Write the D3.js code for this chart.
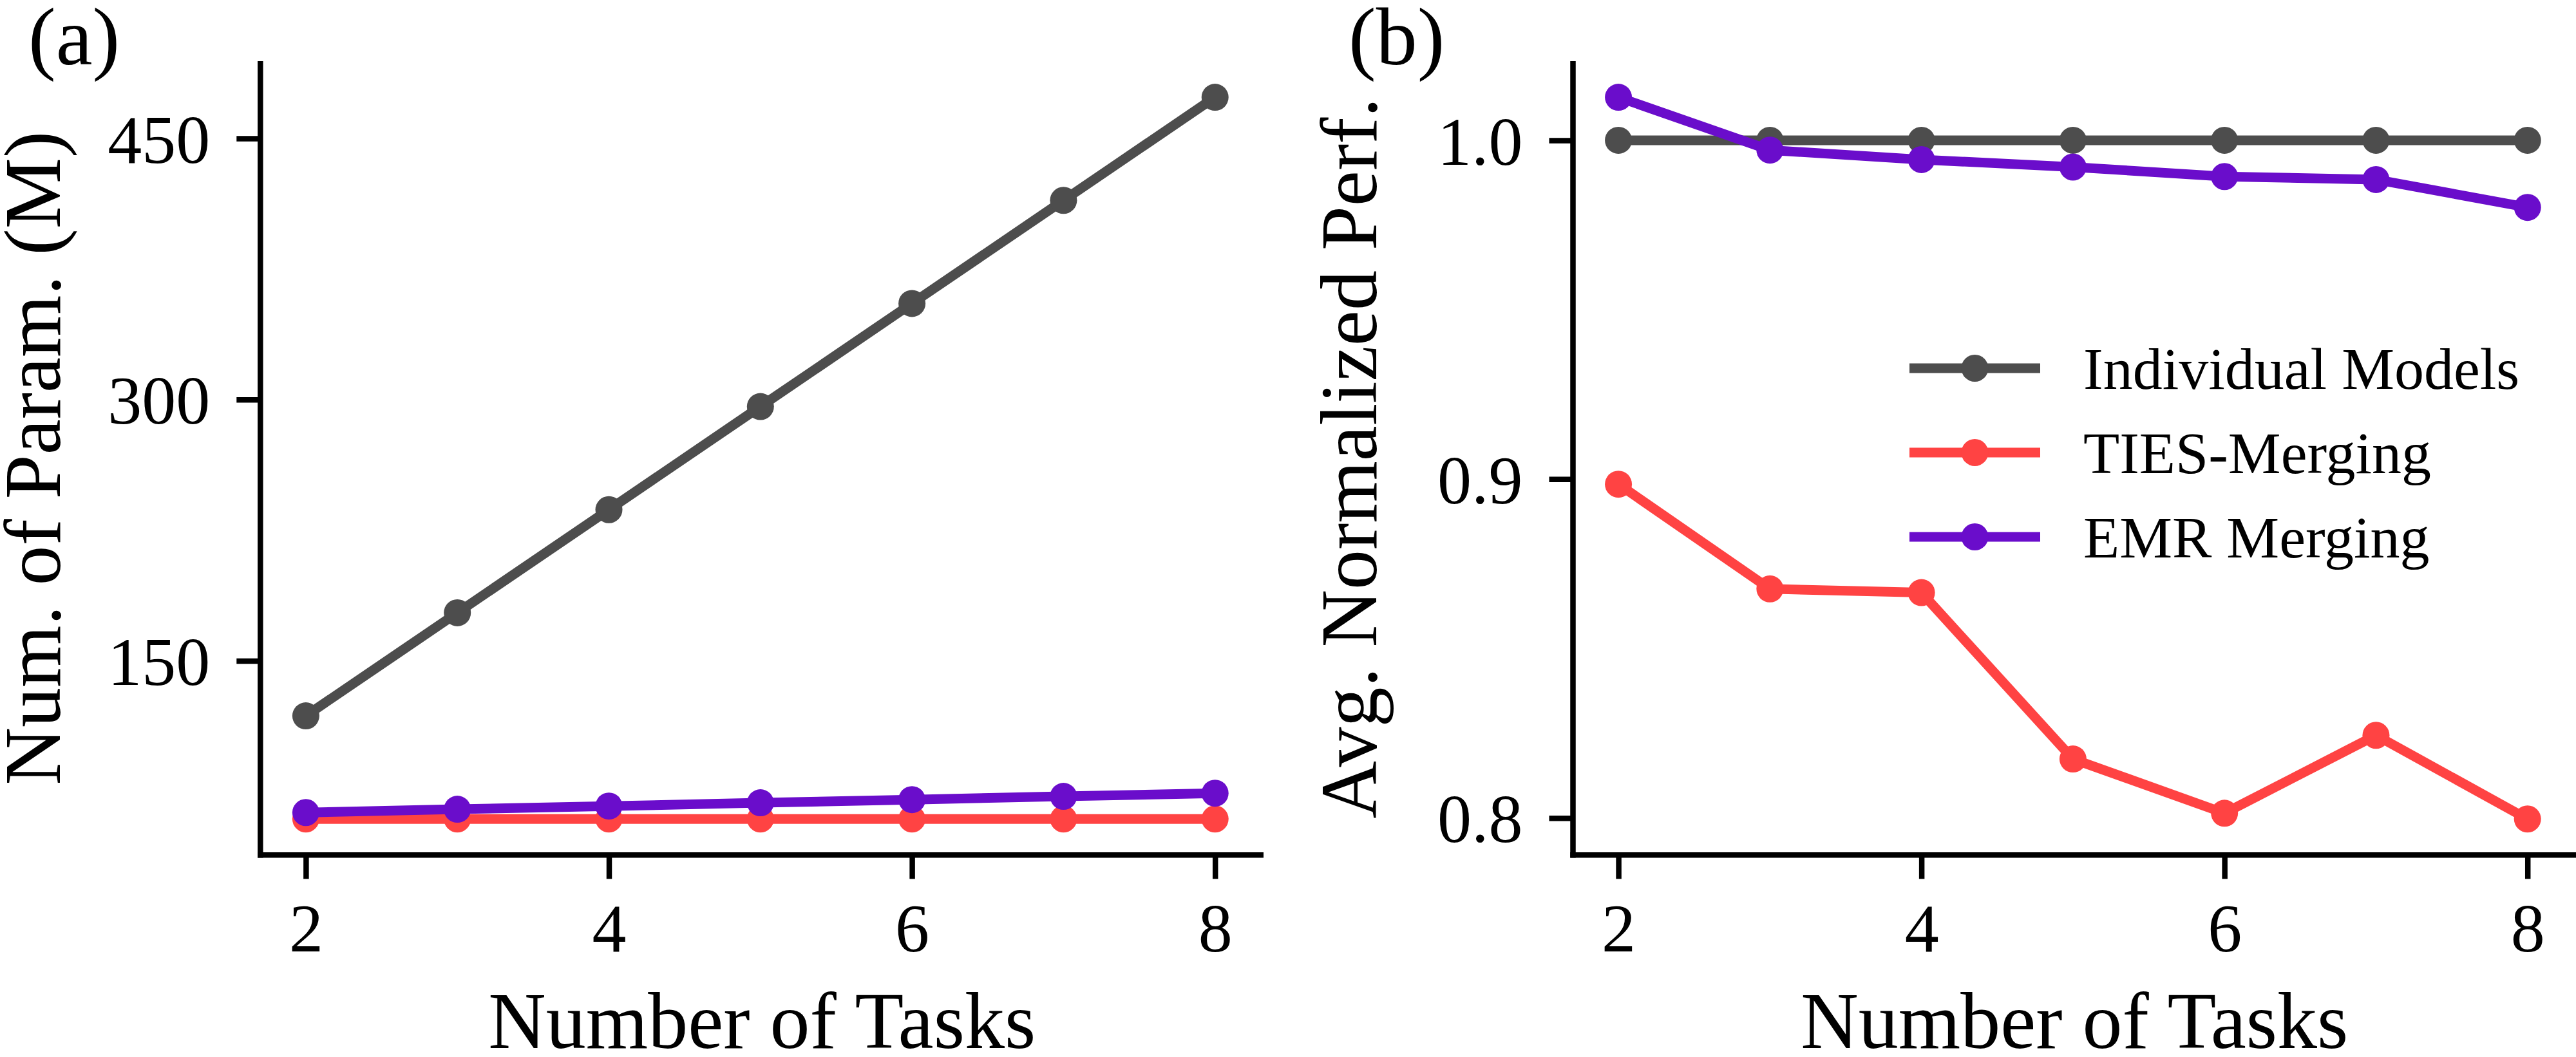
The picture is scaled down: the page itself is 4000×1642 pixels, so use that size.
<!DOCTYPE html>
<html>
<head>
<meta charset="utf-8">
<script src="https://cdn.jsdelivr.net/npm/d3@7"></script>
<style>
  html, body { margin: 0; padding: 0; background: #fff; }
  svg { display: block; }
  text { font-family: "Liberation Serif", "Times New Roman", serif; fill: #000; }
</style>
</head>
<body>
<svg id="chart" width="4000" height="1642"></svg>
<script>
// ---------------- data ----------------
const tasks = [2, 3, 4, 5, 6, 7, 8];
const seriesNames = ["Individual Models", "TIES-Merging", "EMR Merging"];

// panel (a): number of parameters (M)
const paramsIndividual = [118.4, 177.6, 236.8, 296.0, 355.2, 414.4, 473.6];
const paramsTies       = [59.2, 59.2, 59.2, 59.2, 59.2, 59.2, 59.2];
const paramsEmr        = [62.9, 64.8, 66.6, 68.5, 70.3, 72.2, 74.0];

// panel (b): average normalized performance
const perfIndividual = [1.0, 1.0, 1.0, 1.0, 1.0, 1.0, 1.0];
const perfTies       = [0.8985, 0.8676, 0.8665, 0.8174, 0.8014, 0.8244, 0.7997];
const perfEmr        = [1.0127, 0.9971, 0.9943, 0.9921, 0.9893, 0.9884, 0.9802];

const xTickValues  = [2, 4, 6, 8];
const yTicksA      = [150, 300, 450];
const yTicksB      = [0.8, 0.9, 1.0];
const yTickLabelsB = ["0.8", "0.9", "1.0"];

const xLabel  = "Number of Tasks";
const yLabelA = "Num. of Param. (M)";
const yLabelB = "Avg. Normalized Perf.";
const panelTags = ["(a)", "(b)"];

// ---------------- style ----------------
const colors = ["#4d4d4d", "#ff4343", "#6a0dcb"];
const lineW = 15, markerR = 21, spineW = 8.5, tickLen = 37;
const tickFont = 106, labelFont = 124, legendFont = 92, tagFont = 128;

const svg = d3.select("#chart");

function paddedExtent(arrays) {
  const all = arrays.flat();
  const lo = d3.min(all), hi = d3.max(all);
  const m = (hi - lo) * 0.05;
  return [lo - m, hi + m];
}

function drawPanel(opt) {
  const g = svg.append("g");
  const x = d3.scaleLinear().domain([1.7, 8.32]).range([opt.x0, opt.x1]);
  const y = d3.scaleLinear().domain(paddedExtent(opt.series)).range([opt.y1, opt.y0]);

  // lines + markers
  const line = d3.line().x((d, i) => x(tasks[i])).y(d => y(d));
  opt.series.forEach((vals, si) => {
    g.append("path")
      .datum(vals)
      .attr("d", line)
      .attr("fill", "none")
      .attr("stroke", colors[si])
      .attr("stroke-width", lineW)
      .attr("stroke-linejoin", "round");
    g.selectAll(null)
      .data(vals)
      .enter()
      .append("circle")
      .attr("cx", (d, i) => x(tasks[i]))
      .attr("cy", d => y(d))
      .attr("r", markerR)
      .attr("fill", colors[si]);
  });

  // axes
  const xAxis = d3.axisBottom(x).tickValues(xTickValues).tickSize(tickLen).tickSizeOuter(0).tickFormat(d3.format("d"));
  const gx = g.append("g").attr("transform", `translate(0,${opt.y1})`).call(xAxis);
  gx.select(".domain").remove();
  gx.selectAll(".tick line").attr("stroke", "#000").attr("stroke-width", spineW);
  gx.selectAll(".tick text")
    .attr("y", 150).attr("dy", 0)
    .style("font-size", tickFont + "px")
    .style("font-family", '"Liberation Serif", "Times New Roman", serif')
    .attr("fill", "#000");

  const yAxis = d3.axisLeft(y).tickValues(opt.yTicks).tickSize(tickLen).tickSizeOuter(0)
    .tickFormat((d, i) => opt.yTickLabels[i]);
  const gy = g.append("g").attr("transform", `translate(${opt.x0},0)`).call(yAxis);
  gy.select(".domain").remove();
  gy.selectAll(".tick line").attr("stroke", "#000").attr("stroke-width", spineW);
  gy.selectAll(".tick text")
    .attr("x", -78).attr("dy", "0.35em")
    .style("font-size", tickFont + "px")
    .style("font-family", '"Liberation Serif", "Times New Roman", serif')
    .attr("fill", "#000");

  // spines (left + bottom)
  g.append("line")
    .attr("x1", opt.x0).attr("x2", opt.x0)
    .attr("y1", opt.y0).attr("y2", opt.y1 + spineW / 2)
    .attr("stroke", "#000").attr("stroke-width", spineW);
  g.append("line")
    .attr("x1", opt.x0 - spineW / 2).attr("x2", opt.x1)
    .attr("y1", opt.y1).attr("y2", opt.y1)
    .attr("stroke", "#000").attr("stroke-width", spineW);

  // axis labels
  g.append("text")
    .attr("x", (opt.x0 + opt.x1) / 2)
    .attr("y", 1628)
    .attr("text-anchor", "middle")
    .style("font-size", labelFont + "px")
    .text(xLabel);
  g.append("text")
    .attr("transform", `translate(${opt.yLabelX},${(opt.y0 + opt.y1) / 2}) rotate(-90)`)
    .attr("text-anchor", "middle")
    .style("font-size", labelFont + "px")
    .text(opt.yLabel);

  // panel tag
  g.append("text")
    .attr("x", opt.tagX).attr("y", 100)
    .style("font-size", tagFont + "px")
    .text(opt.tag);

  return { g, x, y };
}

drawPanel({
  x0: 404.3, x1: 1962, y0: 95, y1: 1328.3,
  series: [paramsIndividual, paramsTies, paramsEmr],
  yTicks: yTicksA, yTickLabels: yTicksA.map(String),
  yLabel: yLabelA, yLabelX: 93, tag: panelTags[0], tagX: 44
});

const pb = drawPanel({
  x0: 2442.5, x1: 4000, y0: 95, y1: 1328.3,
  series: [perfIndividual, perfTies, perfEmr],
  yTicks: yTicksB, yTickLabels: yTickLabelsB,
  yLabel: yLabelB, yLabelX: 2137, tag: panelTags[1], tagX: 2094
});

// legend (panel b)
const legend = svg.append("g");
const legX0 = 2965, legX1 = 3168, legTextX = 3235, legY0 = 572, legStep = 131;
seriesNames.forEach((name, i) => {
  const yy = legY0 + i * legStep;
  legend.append("line")
    .attr("x1", legX0).attr("x2", legX1).attr("y1", yy).attr("y2", yy)
    .attr("stroke", colors[i]).attr("stroke-width", lineW);
  legend.append("circle")
    .attr("cx", (legX0 + legX1) / 2).attr("cy", yy).attr("r", markerR)
    .attr("fill", colors[i]);
  legend.append("text")
    .attr("x", legTextX).attr("y", yy).attr("dy", "0.35em")
    .style("font-size", legendFont + "px")
    .text(name);
});
</script>
</body>
</html>
